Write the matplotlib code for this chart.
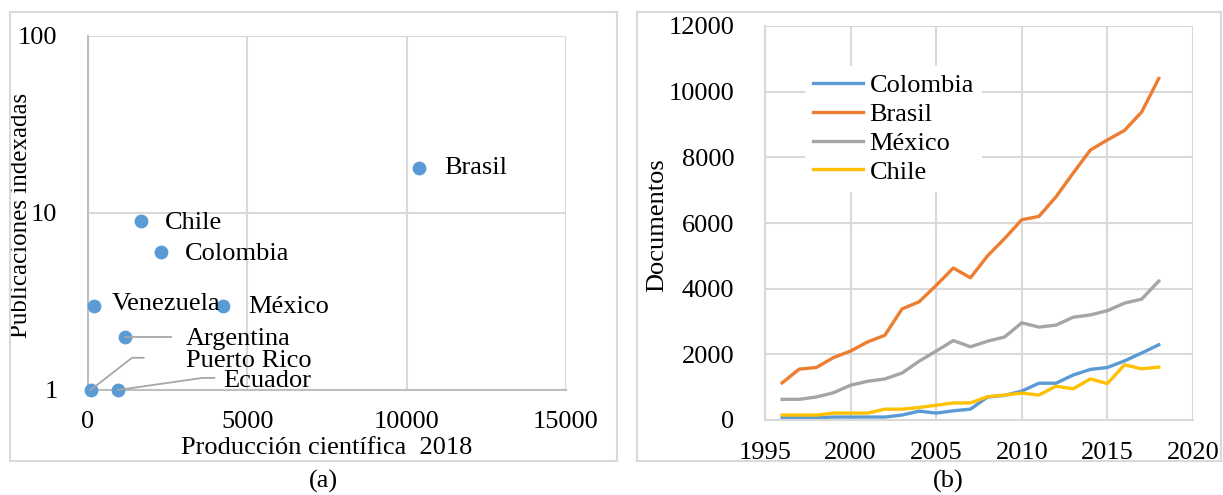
import matplotlib
matplotlib.use('Agg')
import matplotlib.pyplot as plt
from matplotlib.patches import Rectangle

plt.rcParams['font.family'] = ['Liberation Serif', 'DejaVu Serif']

# panel (a): scatter
paises = ['Brasil', 'Chile', 'Colombia', 'Venezuela', 'México', 'Argentina', 'Puerto Rico', 'Ecuador']
produccion = [10390, 1660, 2290, 200, 4240, 1160, 80, 940]
publicaciones = [17.9, 9, 6, 3, 3, 2, 1, 1]

# panel (b): documents per year
anios = list(range(1996, 2019))
colombia = [70, 70, 70, 90, 90, 90, 90, 150, 270, 210, 280, 330, 700, 750, 880, 1120, 1120, 1370, 1540, 1600, 1800, 2040, 2290]
brasil = [1130, 1550, 1600, 1900, 2100, 2380, 2580, 3380, 3600, 4100, 4630, 4330, 5000, 5530, 6100, 6200, 6800, 7520, 8220, 8530, 8820, 9380, 10400]
mexico = [630, 630, 700, 830, 1060, 1180, 1250, 1430, 1790, 2100, 2420, 2230, 2400, 2530, 2960, 2830, 2890, 3130, 3200, 3330, 3560, 3680, 4230]
chile = [150, 150, 150, 210, 210, 210, 330, 330, 380, 450, 520, 520, 710, 760, 820, 760, 1030, 950, 1250, 1110, 1680, 1560, 1610]

FS = 19
GRID = '#d9d9d9'
AXC = '#bfbfbf'

fig = plt.figure(figsize=(12.23, 4.95), dpi=100)

# outer frames
fig.patches.append(Rectangle((10/1223, 1-461/495), 607/1223, 449/495, transform=fig.transFigure,
                             fill=False, edgecolor=GRID, linewidth=1.5))
fig.patches.append(Rectangle((637/1223, 1-461/495), 584/1223, 449/495, transform=fig.transFigure,
                             fill=False, edgecolor=GRID, linewidth=1.5))

# ---- (a)
ax1 = fig.add_axes([88/1223, 1-390/495, 478/1223, 354/495])
ax1.scatter(produccion, publicaciones, s=80, color='#5b9bd5', zorder=3, clip_on=False)
ax1.set_yscale('log')
ax1.set_xlim(0, 15000)
ax1.set_ylim(1, 100)
ax1.set_xticks([0, 5000, 10000, 15000])
ax1.set_yticks([1, 10, 100])
ax1.set_yticklabels(['1', '10', '100'])
ax1.minorticks_off()
ax1.grid(True, color=GRID, linewidth=1.5)
ax1.set_axisbelow(True)
for s in ['top', 'right']:
    ax1.spines[s].set_visible(False)
for s in ['left', 'bottom']:
    ax1.spines[s].set_color(AXC)
    ax1.spines[s].set_linewidth(1.5)
ax1.tick_params(length=0, labelsize=FS)
ax1.tick_params(axis='x', pad=15)
ax1.tick_params(axis='y', pad=22)
ax1.set_xlabel('Producción científica  2018', fontsize=FS, va='center')
ax1.set_ylabel('Publicaciones indexadas', fontsize=18, va='center')
ax1.xaxis.set_label_coords(0.5, -0.165)
ax1.yaxis.set_label_coords(-0.14, 0.494)

etiquetas = {'Brasil': (11170, 17.9), 'Chile': (2400, 8.8), 'Colombia': (3030, 5.9),
             'Venezuela': (750, 3.06), 'México': (5020, 2.95), 'Argentina': (3070, 1.95),
             'Puerto Rico': (3090, 1.45), 'Ecuador': (4240, 1.12)}
for p, (tx, ty) in etiquetas.items():
    ax1.text(tx, ty, p, fontsize=FS, va='center', ha='left', zorder=4)

# leader lines
ax1.plot([1160, 2620], [2, 2], color='#a6a6a6', lw=1.3, zorder=4)
ax1.plot([80, 1380, 1745], [1, 1.52, 1.52], color='#a6a6a6', lw=1.3, zorder=4, clip_on=False)
ax1.plot([940, 3590, 3965], [1, 1.17, 1.17], color='#a6a6a6', lw=1.3, zorder=4, clip_on=False)

fig.text(323/1223, 1-481/495, '(a)', fontsize=FS, ha='center', va='center')

# ---- (b)
ax2 = fig.add_axes([765/1223, 1-420/495, 428/1223, 394/495])
ax2.plot(anios, colombia, color='#5b9bd5', lw=2.4, label='Colombia')
ax2.plot(anios, brasil, color='#ed7d31', lw=2.4, label='Brasil')
ax2.plot(anios, mexico, color='#a5a5a5', lw=2.4, label='México')
ax2.plot(anios, chile, color='#ffc000', lw=2.4, label='Chile')
ax2.set_xlim(1995, 2020)
ax2.set_ylim(0, 12000)
ax2.set_xticks(range(1995, 2021, 5))
ax2.set_yticks(range(0, 12001, 2000))
ax2.grid(True, color=GRID, linewidth=1.5)
ax2.set_axisbelow(True)
for s in ['top', 'right']:
    ax2.spines[s].set_visible(False)
for s in ['left', 'bottom']:
    ax2.spines[s].set_color(GRID)
    ax2.spines[s].set_linewidth(1.5)
ax2.tick_params(length=0, labelsize=FS)
ax2.tick_params(axis='x', pad=16)
ax2.tick_params(axis='y', pad=22)
ax2.set_ylabel('Documentos', fontsize=FS, va='center')
ax2.yaxis.set_label_coords(-0.252, 0.495)

leg = ax2.legend(loc='upper left', bbox_to_anchor=(40/428, 1-40/394), fontsize=FS,
                 frameon=True, fancybox=False, edgecolor='none', framealpha=1,
                 handlelength=1.9, handletextpad=0.25, labelspacing=0.2,
                 borderpad=0.3, borderaxespad=0)

fig.text(948/1223, 1-481/495, '(b)', fontsize=FS, ha='center', va='center')

fig.savefig('out.png', dpi=100)
